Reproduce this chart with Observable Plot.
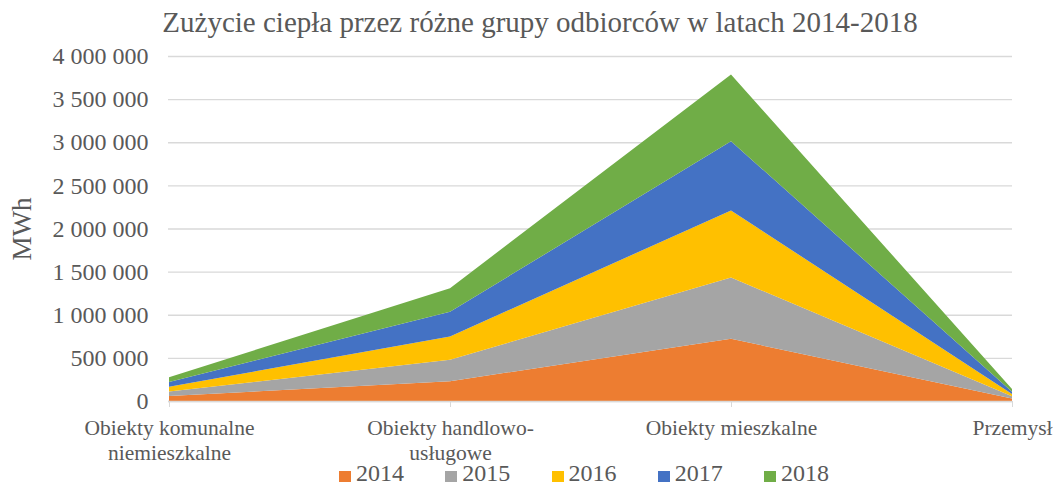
<!DOCTYPE html>
<html>
<head>
<meta charset="utf-8">
<script src="https://cdn.jsdelivr.net/npm/d3@7"></script>
<script src="https://cdn.jsdelivr.net/npm/@observablehq/plot@0.6"></script>
<style>
  html, body { margin: 0; padding: 0; background: #fff; }
  body { position: relative; width: 1054px; height: 484px; overflow: hidden; font-family: "Liberation Serif", "Times New Roman", serif; color: #595959; }
  #title { position: absolute; left: 0; top: 0; width: 1054px; height: 44px; line-height: 44px; text-align: center; font-size: 29px; padding-left: 26px; box-sizing: border-box; white-space: nowrap; }
  #chart { position: absolute; left: 0; top: 44px; }
  #legend { position: absolute; left: 0; top: 461px; width: 1054px; height: 23px; font-size: 24px; line-height: 24px; }
  #legend .item { position: absolute; top: 0; display: flex; align-items: flex-start; white-space: nowrap; }
  #legend .sw { width: 12px; height: 11px; margin-top: 10px; margin-right: 5px; }
</style>
</head>
<body>
<div id="title">Zużycie ciepła przez różne grupy odbiorców w latach 2014-2018</div>
<div id="chart"></div>
<div id="legend"></div>
<script>
const categories = ["Obiekty komunalne niemieszkalne", "Obiekty handlowo-usługowe", "Obiekty mieszkalne", "Przemysł"];
const categoryLabels = ["Obiekty komunalne\nniemieszkalne", "Obiekty handlowo-\nusługowe", "Obiekty mieszkalne", "Przemysł"];
const years = ["2014", "2015", "2016", "2017", "2018"];
const colors = ["#ED7D31", "#A5A5A5", "#FFC000", "#4472C4", "#70AD47"];
const v2014 = [58000, 230000, 721000, 28000];
const v2015 = [52000, 248000, 711000, 28000];
const v2016 = [56000, 270000, 777000, 25000];
const v2017 = [54000, 286000, 803000, 27000];
const v2018 = [55000, 274000, 774000, 30000];
const yTicks = [0, 500000, 1000000, 1500000, 2000000, 2500000, 3000000, 3500000, 4000000];

const series = [v2014, v2015, v2016, v2017, v2018];
const data = [];
years.forEach((y, i) => categories.forEach((c, j) => data.push({cat: c, year: y, value: series[i][j]})));

const fmt = d => d3.format(",")(d).replace(/,/g, " ");
const labelOf = Object.fromEntries(categories.map((c, i) => [c, categoryLabels[i]]));

const chart = Plot.plot({
  width: 1054,
  height: 422,
  marginTop: 12,
  marginBottom: 65,
  marginLeft: 168,
  marginRight: 42,
  style: {fontFamily: "'Liberation Serif', 'Times New Roman', serif", color: "#595959", background: "#fff", overflow: "hidden"},
  x: {type: "point", domain: categories, padding: 0},
  y: {domain: [0, 4000000]},
  color: {domain: years, range: colors},
  marks: [
    Plot.gridY(yTicks, {stroke: "#D9D9D9", strokeOpacity: 1, strokeWidth: 1.3}),
    Plot.areaY(data, {x: "cat", y: "value", fill: "year", z: "year", order: years}),
    Plot.ruleY([0], {stroke: "#D9D9D9", strokeWidth: 1.3}),
    Plot.axisY(yTicks, {tickSize: 0, tickPadding: 20, fontSize: 24, tickFormat: fmt, fill: "#595959", label: null}),
    Plot.axisX({tickSize: 6, stroke: "#D9D9D9", tickPadding: 10, fontSize: 21.5, lineHeight: 1.16, tickFormat: d => labelOf[d], fill: "#595959", label: null}),
    Plot.text(["MWh"], {frameAnchor: "left", textAnchor: "middle", rotate: -90, dx: -146, fontSize: 27, fill: "#595959"})
  ]
});
document.getElementById("chart").appendChild(chart);

const legend = document.getElementById("legend");
years.forEach((y, i) => {
  const item = document.createElement("div");
  item.className = "item";
  item.style.left = (339 + 106.25 * i) + "px";
  item.innerHTML = `<div class="sw" style="background:${colors[i]}"></div><span>${y}</span>`;
  legend.appendChild(item);
});
</script>
</body>
</html>
